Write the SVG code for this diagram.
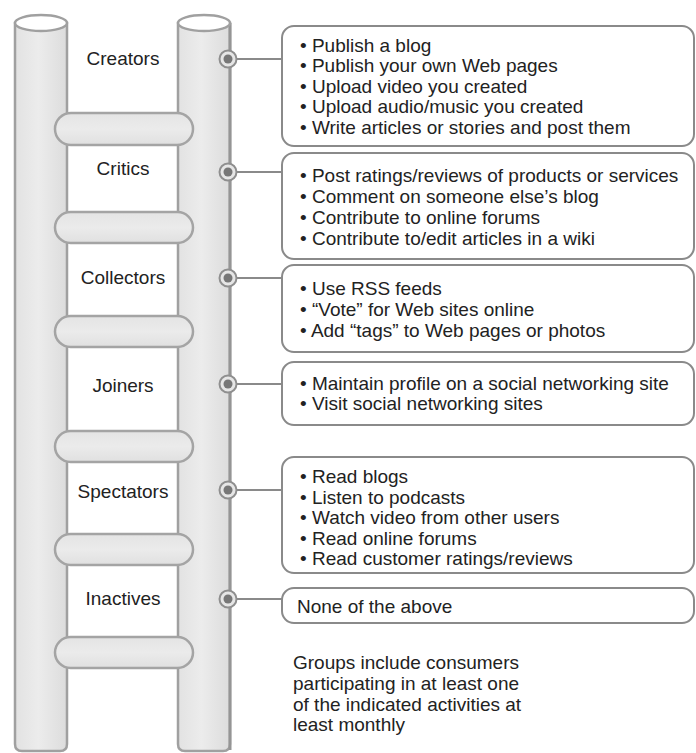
<svg xmlns="http://www.w3.org/2000/svg" width="696" height="753" viewBox="0 0 696 753">
<defs>
<linearGradient id="pole" x1="0" y1="0" x2="1" y2="0">
<stop offset="0" stop-color="#e2e2e2"/>
<stop offset="0.45" stop-color="#ececec"/>
<stop offset="1" stop-color="#dcdcdc"/>
</linearGradient>
<linearGradient id="rung" x1="0" y1="0" x2="0" y2="1">
<stop offset="0" stop-color="#e4e4e4"/>
<stop offset="0.5" stop-color="#ebebeb"/>
<stop offset="1" stop-color="#e0e0e0"/>
</linearGradient>
</defs>
<style>
.pole{fill:url(#pole);stroke:#a0a0a0;stroke-width:2.5}
.cap{fill:#fff;stroke:#a0a0a0;stroke-width:2.5}
.rung{fill:url(#rung);stroke:#a4a4a4;stroke-width:2.5}
.lbl{font-family:"Liberation Sans",Arial,sans-serif;font-size:19px;fill:#222;text-anchor:middle}
.box{fill:#fff;stroke:#8a8a8a;stroke-width:2}
.txt{font-family:"Liberation Sans",Arial,sans-serif;font-size:19px;fill:#222}
.conn{stroke:#8a8a8a;stroke-width:2;fill:none}
.dotO{fill:#e6e6e6;stroke:#8f8f8f;stroke-width:2}
.dotI{fill:#777}
</style>
<rect width="696" height="753" fill="#fff"/>
<g id="ladder">
<path class="pole" d="M15,23 V744 Q15,751 22,751 H60 Q67,751 67,744 V23 Z"/>
<ellipse class="cap" cx="41" cy="23" rx="26" ry="8"/>
<path class="pole" d="M178,23 V744 Q178,751 185,751 H223 Q230,751 230,744 V23 Z"/>
<line x1="230" y1="23" x2="230" y2="750" stroke="#959595" stroke-width="3"/>
<ellipse class="cap" cx="204" cy="23" rx="26" ry="8"/>
<rect class="rung" x="55" y="113" width="138" height="32" rx="16"/>
<rect class="rung" x="55" y="212" width="138" height="31" rx="15.5"/>
<rect class="rung" x="55" y="316" width="138" height="31" rx="15.5"/>
<rect class="rung" x="55" y="431" width="138" height="31" rx="15.5"/>
<rect class="rung" x="55" y="534" width="138" height="31" rx="15.5"/>
<rect class="rung" x="55" y="637" width="138" height="31" rx="15.5"/>
</g>
<g id="connectors">
<line class="conn" x1="237" y1="59" x2="282" y2="59"/>
<line class="conn" x1="237" y1="172" x2="282" y2="172"/>
<line class="conn" x1="237" y1="278" x2="282" y2="278"/>
<line class="conn" x1="237" y1="384" x2="282" y2="384"/>
<line class="conn" x1="237" y1="490" x2="282" y2="490"/>
<line class="conn" x1="237" y1="599" x2="282" y2="599"/>
<circle class="dotO" cx="228" cy="59" r="8.5"/><circle class="dotI" cx="228" cy="59" r="4.5"/>
<circle class="dotO" cx="228" cy="172" r="8.5"/><circle class="dotI" cx="228" cy="172" r="4.5"/>
<circle class="dotO" cx="228" cy="278" r="8.5"/><circle class="dotI" cx="228" cy="278" r="4.5"/>
<circle class="dotO" cx="228" cy="384" r="8.5"/><circle class="dotI" cx="228" cy="384" r="4.5"/>
<circle class="dotO" cx="228" cy="490" r="8.5"/><circle class="dotI" cx="228" cy="490" r="4.5"/>
<circle class="dotO" cx="228" cy="599" r="8.5"/><circle class="dotI" cx="228" cy="599" r="4.5"/>
</g>
<g id="creators">
<text class="lbl" x="123" y="65">Creators</text>
<rect class="box" x="282" y="26" width="412" height="120" rx="12"/>
<text class="txt" x="300" y="51.5">• Publish a blog</text>
<text class="txt" x="300" y="72">• Publish your own Web pages</text>
<text class="txt" x="300" y="92.5">• Upload video you created</text>
<text class="txt" x="300" y="113">• Upload audio/music you created</text>
<text class="txt" x="300" y="133.5">• Write articles or stories and post them</text>
</g>
<g id="critics">
<text class="lbl" x="123" y="175">Critics</text>
<rect class="box" x="282" y="153" width="412" height="106" rx="12"/>
<text class="txt" x="300" y="181.5">• Post ratings/reviews of products or services</text>
<text class="txt" x="300" y="202.5">• Comment on someone else’s blog</text>
<text class="txt" x="300" y="223.5">• Contribute to online forums</text>
<text class="txt" x="300" y="244.5">• Contribute to/edit articles in a wiki</text>
</g>
<g id="collectors">
<text class="lbl" x="123" y="284">Collectors</text>
<rect class="box" x="282" y="265" width="412" height="87" rx="12"/>
<text class="txt" x="300" y="294.5">• Use RSS feeds</text>
<text class="txt" x="300" y="315.5">• “Vote” for Web sites online</text>
<text class="txt" x="300" y="336.5">• Add “tags” to Web pages or photos</text>
</g>
<g id="joiners">
<text class="lbl" x="123" y="392">Joiners</text>
<rect class="box" x="282" y="362" width="412" height="63" rx="12"/>
<text class="txt" x="300" y="389.5">• Maintain profile on a social networking site</text>
<text class="txt" x="300" y="409.5">• Visit social networking sites</text>
</g>
<g id="spectators">
<text class="lbl" x="123" y="498">Spectators</text>
<rect class="box" x="282" y="457" width="412" height="116" rx="12"/>
<text class="txt" x="300" y="482.5">• Read blogs</text>
<text class="txt" x="300" y="503.5">• Listen to podcasts</text>
<text class="txt" x="300" y="523.5">• Watch video from other users</text>
<text class="txt" x="300" y="544.5">• Read online forums</text>
<text class="txt" x="300" y="564.5">• Read customer ratings/reviews</text>
</g>
<g id="inactives">
<text class="lbl" x="123" y="605">Inactives</text>
<rect class="box" x="282" y="588" width="412" height="35" rx="12"/>
<text class="txt" x="297" y="612.5">None of the above</text>
</g>
<g id="note">
<text class="txt" x="293" y="668.5">Groups include consumers</text>
<text class="txt" x="293" y="689.5">participating in at least one</text>
<text class="txt" x="293" y="710.5">of the indicated activities at</text>
<text class="txt" x="293" y="730.5">least monthly</text>
</g>
</svg>
